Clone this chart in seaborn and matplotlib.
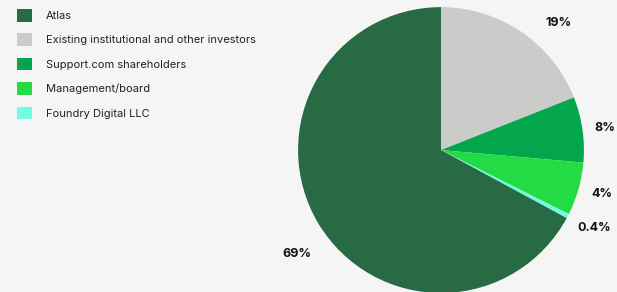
import numpy as np
import matplotlib
matplotlib.use("Agg")
import matplotlib.pyplot as plt
import seaborn as sns

# shares as drawn (clockwise from 12 o'clock), and the printed labels
holders = ["Existing institutional and other investors", "Support.com shareholders",
           "Management/board", "Foundry Digital LLC", "Atlas"]
shares = [19.0, 7.4, 6.0, 0.5, 67.1]
share_labels = ["19%", "8%", "4%", "0.4%", "69%"]
legend_order = ["Atlas", "Existing institutional and other investors", "Support.com shareholders",
                "Management/board", "Foundry Digital LLC"]

colors = {"Atlas": "#286a43",
          "Existing institutional and other investors": "#c9ccc8",
          "Support.com shareholders": "#03a64a",
          "Management/board": "#23dc45",
          "Foundry Digital LLC": "#6ffce0"}

# label placement tweaks (degrees off the wedge middle, distance in radii)
label_shift = [-8.4, -0.5, 0.6, 0.5, 5.0]
label_dist = [1.21, 1.16, 1.17, 1.2, 1.24]

sns.set_theme(style="white")
plt.rcParams["font.family"] = ["Inter", "DejaVu Sans"]

bg = "#f5f5f5"
fig = plt.figure(figsize=(6.17, 2.92), dpi=100, facecolor=bg)

ax = fig.add_axes([0.483, -0.0034, 0.4635, 0.979])
ax.set_facecolor(bg)
wedges, _ = ax.pie(shares, colors=[colors[h] for h in holders],
                   startangle=90, counterclock=False, radius=1.0,
                   wedgeprops=dict(linewidth=0))
for w, lab, sh, d in zip(wedges, share_labels, label_shift, label_dist):
    ang = np.deg2rad((w.theta1 + w.theta2) / 2 + sh)
    ax.text(d * np.cos(ang), d * np.sin(ang), lab, ha="center", va="center",
            fontsize=9, fontweight="bold", color="#111111", clip_on=False)
ax.set_xlim(-1, 1)
ax.set_ylim(-1, 1)
ax.set_aspect("equal")
ax.axis("off")

handle_map = dict(zip(holders, wedges))
fig.legend([handle_map[h] for h in legend_order], legend_order,
           loc="upper left", bbox_to_anchor=(0.012, 1.003), frameon=False,
           fontsize=8, handlelength=1.35, handleheight=1.35, handletextpad=1.2,
           labelspacing=1.07, labelcolor="#222222")

fig.savefig("out.png", dpi=100, facecolor=bg)
